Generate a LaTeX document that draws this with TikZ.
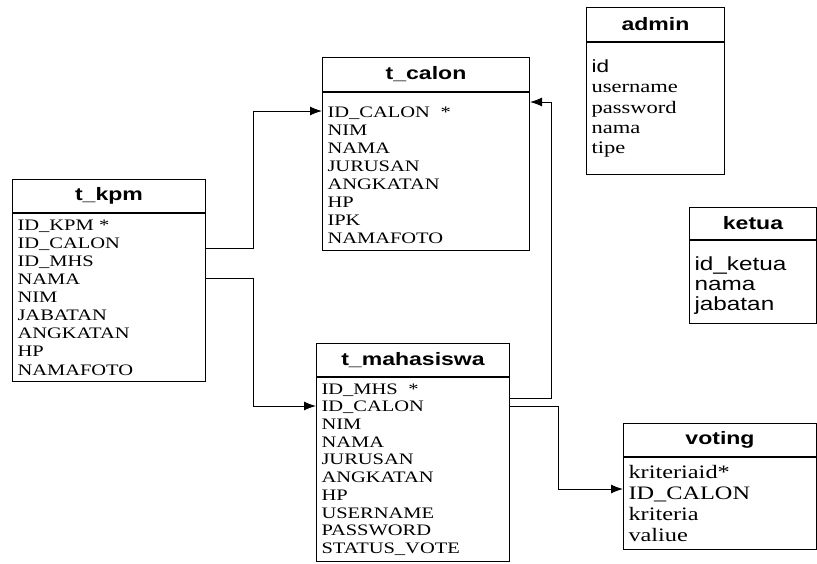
\documentclass[tikz,border=0pt]{standalone}
\usepackage{fontspec}
\setmainfont{Liberation Serif}[FakeStretch=1.28]
\setsansfont{Liberation Sans}[FakeStretch=1.28]
\usetikzlibrary{positioning,arrows.meta}
\tikzset{
    head/.style = {draw, rectangle, line width=1pt, inner sep=0pt,
        minimum height=33pt,
        font=\sffamily\bfseries\fontsize{18}{20}\selectfont},
    body/.style = {draw, rectangle, line width=1pt,
        inner xsep=5pt, inner ysep=0pt, align=left,
        font=\fontsize{16}{18.1}\selectfont},
    link/.style = {draw, line width=1pt, -{Latex[length=12pt,width=9pt]}}
}

\begin{document}
\begin{tikzpicture}[x=1pt,y=-1pt]
    \useasboundingbox (0,0) rectangle (817,563);
    % tables
    \node[head, minimum width=193pt, anchor=north west] (kpmh) at (12,179) {t\_kpm};
    \node[body, text width=183pt, minimum height=168pt, below=0pt of kpmh] (kpm)
        {ID\_KPM *\\ID\_CALON\\ID\_MHS\\NAMA\\NIM\\JABATAN\\ANGKATAN\\HP\\NAMAFOTO};

    \node[head, minimum width=207pt, minimum height=34pt, anchor=north west] (calonh) at (322,57) {t\_calon};
    \node[body, text width=197pt, minimum height=158pt, below=0pt of calonh,
        font=\fontsize{16}{18}\selectfont] (calon)
        {\mbox{}\\ID\_CALON\ \ *\\NIM\\NAMA\\JURUSAN\\ANGKATAN\\HP\\IPK\\NAMAFOTO};

    \node[head, minimum width=193pt, anchor=north west] (mhsh) at (316,343) {t\_mahasiswa};
    \node[body, text width=183pt, minimum height=184pt, below=0pt of mhsh,
        font=\fontsize{16}{17.7}\selectfont] (mhs)
        {ID\_MHS\ \ *\\ID\_CALON\\NIM\\NAMA\\JURUSAN\\ANGKATAN\\HP\\USERNAME\\PASSWORD\\STATUS\_VOTE};

    \node[head, minimum width=193pt, anchor=north west] (votingh) at (623,423) {voting};
    \node[body, text width=183pt, minimum height=92pt, below=0pt of votingh,
        font=\fontsize{19}{21.3}\selectfont] (voting)
        {kriteriaid*\\ID\_CALON\\kriteria\\valiue};

    \node[head, minimum width=138pt, minimum height=34pt, anchor=north west] (adminh) at (586,7) {admin};
    \node[body, text width=128pt, minimum height=132pt, below=0pt of adminh,
        font=\fontsize{17.6}{20.2}\selectfont] (admin)
        {{\sffamily id}\\username\\password\\nama\\tipe};

    \node[head, minimum width=127pt, minimum height=32pt, anchor=north west] (ketuah) at (689,207) {ketua};
    \node[body, text width=117pt, minimum height=83pt, below=0pt of ketuah,
        font=\sffamily\fontsize{19}{20}\selectfont] (ketua)
        {\mbox{}\\id\_ketua\\nama\\jabatan};

    % relasi
    \draw[link] ([yshift=-35pt]kpm.north east) -- ++(47,0) |- ([yshift=-19pt]calon.north west);
    \draw[link] ([yshift=-65pt]kpm.north east) -- ++(47,0) |- ([yshift=-29pt]mhs.north west);
    \draw[link] ([yshift=-21pt]mhs.north east) -- ++(41,0) |- ([yshift=-10pt]calon.north east);
    \draw[link] ([yshift=-29pt]mhs.north east) -- ++(48,0) |- ([yshift=-32pt]voting.north west);
\end{tikzpicture}
\end{document}
